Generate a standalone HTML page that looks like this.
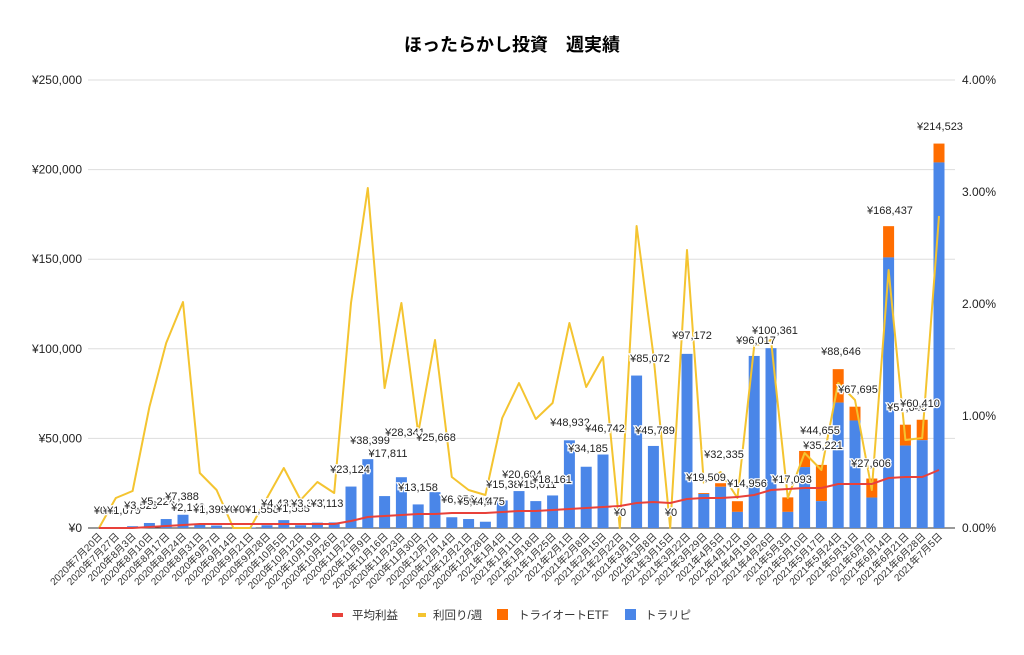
<!DOCTYPE html>
<html><head><meta charset="utf-8"><style>
html,body{margin:0;padding:0;background:#fff;}
svg{display:block;font-family:"Liberation Sans","Noto Sans CJK JP",sans-serif;}
.dl{font-size:11px;fill:#222;stroke:#fff;stroke-width:2.5px;paint-order:stroke;text-anchor:middle;}
.ax{font-size:12px;fill:#222;}
.xl{font-size:10px;fill:#333;text-anchor:end;}
.lg{font-size:11.5px;fill:#333;}
</style></head><body>
<svg id="c" width="1024" height="655" viewBox="0 0 1024 655" xmlns="http://www.w3.org/2000/svg">
<text x="512" y="51" text-anchor="middle" style="font-size:18px;font-weight:bold;fill:#000">ほったらかし投資　週実績</text>
<g id="grid"></g><g id="bars"></g><g id="lines"></g><g id="labels"></g><g id="xl"></g>
<rect x="332" y="613" width="11" height="4" fill="#e8413a"/>
<text class="lg" x="352" y="619">平均利益</text>
<rect x="418" y="613" width="8" height="4" fill="#f4c430"/>
<text class="lg" x="433" y="619">利回り/週</text>
<rect x="497" y="609" width="11" height="11" fill="#ff6d00"/>
<text class="lg" x="518" y="619">トライオートETF</text>
<rect x="625" y="609" width="11" height="11" fill="#4a86e8"/>
<text class="lg" x="645" y="619">トラリピ</text>
</svg>
<script>
var NS="http://www.w3.org/2000/svg";
function el(p,t,a,txt){var e=document.createElementNS(NS,t);for(var k in a)e.setAttribute(k,a[k]);if(txt!=null)e.textContent=txt;document.getElementById(p).appendChild(e);return e;}
var Y0=528,PX=1.792/1000;
var lv=["¥250,000","¥200,000","¥150,000","¥100,000","¥50,000","¥0"],rv=["4.00%","3.00%","2.00%","1.00%","0.00%"];
for(var i=0;i<6;i++){var y=80+i*89.6;el("grid","line",{x1:88,x2:955,y1:y,y2:y,stroke:i==5?"#333":"#ddd","stroke-width":1});el("grid","text",{x:82,y:y+4,"class":"ax","text-anchor":"end"},lv[i]);}
for(var i=0;i<5;i++){var y=80+i*112;el("grid","text",{x:962,y:y+4,"class":"ax"},rv[i]);}
var blue=[0,0,1000,2800,5000,7388,2100,1390,0,300,1550,4400,1550,3000,3113,23124,38399,17811,28341,13158,20000,6000,5000,3500,15380,20604,15011,18161,48932,34185,41000,0,85072,45789,0,97172,19000,23000,9000,96017,100361,9000,34000,15000,70000,60000,17000,151000,46000,49000,204000];
var tot=[0,0,0,0,0,0,0,0,0,0,0,0,0,0,0,0,0,0,0,0,0,0,0,0,0,0,0,0,0,0,0,0,0,0,0,0,19509,25000,14956,0,0,17093,43000,35221,88646,67695,27606,168437,57645,60410,214523];
var yel=[528,498,491,407,343,302,473,490,528,528,498,468,500,482,493,303,188,388,303,433,340,477,490,495,418,383,419,403,323,387,357,528,226,355,528,250,483,472,498,346,340,498,453,470,383,400,490,270,440,438,216];
var red=[528,528,528,527,526,525,524,524,524,524,524,524,524,524,524,521,517,516,515,514,514,513,513,513,512,511,511,510,509,508,507,506,503,502,503,499,498,498,497,495,490,489,488,488,484,484,484,478,477,477,470];
function X(i){return 99+16.8*i;}
for(var i=0;i<51;i++){var x=X(i)-5.5,b=blue[i];
 if(tot[i]>b){el("bars","rect",{x:x,y:Y0-tot[i]*PX,width:11,height:(tot[i]-b)*PX,fill:"#ff6d00"});}
 if(b>0)el("bars","rect",{x:x,y:Y0-b*PX,width:11,height:b*PX,fill:"#4a86e8"});}
var p1="",p2="";for(var i=0;i<51;i++){p1+=(i?"L":"M")+X(i)+","+yel[i];p2+=(i?"L":"M")+X(i)+","+red[i];}
el("lines","path",{d:p1,fill:"none",stroke:"#f4c430","stroke-width":2,"stroke-linejoin":"round"});
el("lines","path",{d:p2,fill:"none",stroke:"#e8413a","stroke-width":2});
var L=[["¥0",100,514],["¥0",109,514],["¥1,079",124,514],["¥3,529",141,509],["¥5,224",158,505],["¥7,388",182,500],["¥2,148",188,511],["¥1,399",210,513],["¥0",230,513],["¥0",239,513],["¥1,558",262,513],["¥4,431",278,507],["¥1,558",293,512],["¥3,347",308,507],["¥3,113",327,507],["¥23,124",350,473],["¥38,399",370,444],["¥17,811",388,457],["¥28,341",405,436],["¥13,158",418,491],["¥25,668",436,441],["¥6,356",458,503],["¥5,148",474,505],["¥4,475",488,505],["¥15,384",506,488],["¥20,604",522,478],["¥15,011",537,488],["¥18,161",552,483],["¥48,932",570,426],["¥34,185",588,452],["¥46,742",605,432],["¥0",620,516],["¥85,072",650,362],["¥45,789",655,434],["¥0",671,516],["¥97,172",692,339],["¥19,509",706,481],["¥32,335",724,458],["¥14,956",747,487],["¥96,017",756,344],["¥100,361",775,334],["¥17,093",792,483],["¥44,655",820,434],["¥35,221",823,449],["¥88,646",841,355],["¥67,695",858,393],["¥27,606",871,467],["¥57,645",907,411],["¥60,410",920,407],["¥168,437",890,214],["¥214,523",940,130]];
L.forEach(function(a){el("labels","text",{x:a[1],y:a[2],"class":"dl"},a[0]);});
var d=new Date(2020,6,20);
for(var i=0;i<51;i++){var t=d.getFullYear()+"年"+(d.getMonth()+1)+"月"+d.getDate()+"日";var x=X(i)+4,y=537;
 el("xl","text",{x:x,y:y,"class":"xl",transform:"rotate(-45 "+x+" "+y+")"},t);d.setDate(d.getDate()+7);}
</script>
</body></html>
